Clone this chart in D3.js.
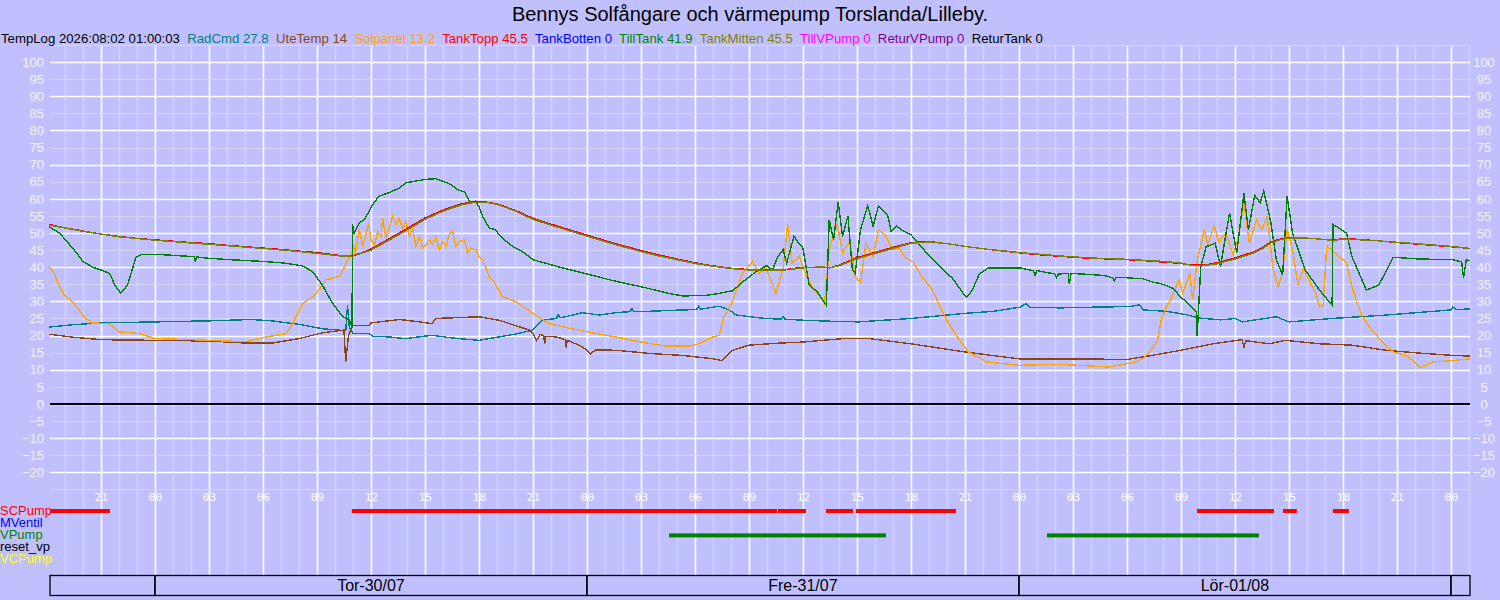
<!DOCTYPE html>
<html>
<head>
<meta charset="utf-8">
<script src="https://cdnjs.cloudflare.com/ajax/libs/d3/7.8.5/d3.min.js"></script>
<style>
  body { margin: 0; background: #c0c0ff; }
  svg { display: block; font-family: "Liberation Sans", Arial, sans-serif; }
</style>
</head>
<body>
<script>
// hours are counted from Tor-30/07 00:00
const baseTime = Date.UTC(2026, 6, 30, 0, 0);
const startHour = -5.83;
const endHour = 73.06;

const titleText = "Bennys Solfångare och värmepump Torslanda/Lilleby.";
const logStamp = "TempLog 2026:08:02 01:00:03";

const seriesNames = ["RadCmd", "UteTemp", "Solpanel", "TankTopp", "TankBotten", "TillTank", "TankMitten", "TillVPump", "ReturVPump", "ReturTank"];
const lastValues = ["27.8", "14", "13.2", "45.5", "0", "41.9", "45.5", "0", "0", "0"];
const seriesColors = ["#008080", "#8b4513", "#ffa500", "#ff0000", "#0000ff", "#008000", "#808000", "#ff00ff", "#800080", "#000000"];

const radCmd = [[-5.87,22.5],[-4.5,23.2],[-3,23.7],[0,24],[3,24.3],[5.4,24.7],[6.5,24.3],[8,23.3],[9.3,22],[10.2,21.6],[10.6,21.4],[10.7,28.9],[10.8,22.5],[11,20.6],[11.9,20.6],[12.1,19.8],[13,19.6],[13.9,19.1],[15.4,20.1],[16.5,19.3],[18,18.6],[19.1,19.6],[20,20.4],[21,21.6],[21.5,24.5],[22.3,25],[22.4,26.2],[22.5,25.2],[22.8,25.5],[23.75,26.7],[24.7,26],[25.6,26.7],[26.4,27],[26.5,28],[26.6,27],[27,27],[29.3,27.5],[30.1,27.6],[30.2,28.6],[30.3,27.7],[31.35,28.6],[31.9,27.5],[32.3,26],[33.9,25],[34.8,24.8],[34.9,25.6],[35,24.8],[36,24.5],[37.5,24.2],[39.1,24],[42,25],[45,26.5],[46.6,27.1],[48.05,28.3],[48.4,29.3],[48.6,28.3],[50.3,28.1],[52.1,28.3],[54.2,28.5],[54.7,29],[54.9,27.5],[56.2,27.1],[57.3,26.1],[58.05,25.1],[59.2,24.6],[60.05,25],[60.4,24],[62.3,25.5],[63,24],[65.4,25],[68.4,26],[72,27.5],[72.1,28.4],[72.3,27.6],[73.06,27.8]];

const uteTemp = [[-5.87,20.4],[-4.5,19.5],[-3,18.8],[0,18.6],[3,18.4],[5.06,17.8],[6.5,17.8],[8,19.1],[9.3,20.8],[10.5,21.6],[10.6,12.3],[10.75,20],[11,23],[11.9,23],[12,23.7],[13.6,24.7],[14.7,24],[15.4,23.5],[15.6,25],[18,25.5],[19.1,24.5],[20.8,21.6],[21,20.6],[21.2,18.5],[21.4,20.3],[21.6,20],[21.65,17.5],[21.7,19.8],[22.3,19.6],[22.8,18.8],[22.85,16.5],[22.9,18.6],[23.2,18],[23.76,16.7],[24.2,14.7],[24.5,15.8],[25.6,15.7],[27.65,14.7],[29.3,14.2],[31,13.2],[31.5,12.7],[32.1,15.7],[33,17.2],[34.7,17.8],[36,18.1],[38.2,19.1],[39.7,19.1],[42,17.6],[45,15.2],[48,13.2],[51,13.2],[54,13],[55.4,14.2],[57,15.7],[58.8,17.6],[60.4,18.8],[60.5,16.5],[60.6,18.5],[61.9,17.6],[62.8,18.6],[64.7,17.6],[66.5,17.2],[68.4,15.7],[70.2,14.9],[72.1,14.2],[73.06,14]];

const solpanel = [[-5.87,40.2],[-5.6,38.2],[-5.3,34.3],[-5,31.6],[-4.57,29.9],[-4,26],[-3.55,23.7],[-2.54,23.5],[-1.98,21.1],[-0.87,20.6],[0,19.1],[1.5,18.9],[3,18.6],[5.06,18.2],[6.17,19.6],[7.3,20.6],[7.65,23.5],[8.2,29.4],[8.9,31.9],[9.5,36.3],[10.24,37.3],[10.5,39.7],[10.7,42.2],[10.9,43.6],[11.02,46.6],[11.13,44.1],[11.35,51],[11.54,46.1],[11.72,49.5],[11.87,52.9],[12,48],[12.19,46.1],[12.37,50.5],[12.56,49],[12.65,54.4],[12.83,48.5],[13,51],[13.2,54.9],[13.4,52.5],[13.57,54.4],[13.76,51],[13.94,53.4],[14.13,49],[14.31,51.5],[14.5,46.1],[14.69,49],[14.87,45.6],[15.06,46.6],[15.24,48],[15.43,46.6],[15.6,49],[15.8,45.1],[15.98,47.5],[16.17,46.1],[16.35,49.5],[16.54,50.5],[16.72,46.1],[16.91,47.5],[17.2,48],[17.37,44.1],[17.55,45.6],[17.83,45.1],[18,43.1],[18.2,42.2],[18.4,39.7],[18.57,37.3],[18.85,35.8],[19.04,33.8],[19.3,31.4],[20.05,29.9],[21,26.5],[21.9,23.5],[22.8,22.4],[24,21.1],[25.6,19.6],[27,18.1],[28.4,16.9],[29.7,16.9],[30.2,17.6],[31,19.6],[31.35,20.1],[31.6,25.5],[31.9,27.5],[32.3,33.3],[32.65,38.2],[33.2,41.7],[33.57,38.2],[33.95,39.7],[34.5,32.4],[34.9,39.7],[35.15,52.5],[35.4,41.2],[35.8,43.1],[36.2,37.3],[36.5,34.3],[37,30.9],[37.2,29.4],[37.46,45.1],[37.9,52.9],[38.2,44.1],[38.6,47.5],[38.9,37.3],[39.2,35.3],[39.5,47],[39.9,43.1],[40.2,51],[40.6,49],[41,45.1],[41.35,45.6],[41.7,42.6],[42.1,41.7],[42.6,37.3],[43.2,33.3],[43.7,27.5],[44.1,23.5],[44.7,18.6],[45.2,15.2],[46.2,12.3],[48,11.3],[50.2,11.6],[53,10.8],[54.5,12.3],[55,13.7],[55.4,16.2],[55.7,18.6],[55.9,24.5],[56.2,28.4],[56.5,31.4],[56.9,36.3],[57.1,32.4],[57.5,38.2],[57.65,30.4],[57.9,41.7],[58.3,51],[58.5,46.6],[58.85,52],[59.1,47.5],[59.5,50],[59.9,43.6],[60.2,49],[60.5,58.8],[60.8,47],[61.2,53.9],[61.5,51],[61.8,54.9],[62.1,40.2],[62.4,34.3],[62.65,38.2],[62.9,51],[63.2,45.1],[63.5,34.8],[63.8,39.7],[64.1,36.3],[64.5,32.4],[64.7,28.4],[64.9,28.9],[65.1,46.1],[65.6,44.1],[66.2,41.2],[66.5,34.3],[66.8,29.4],[67.1,25.5],[67.6,21.6],[68.2,18.1],[68.8,15.2],[69.5,14.2],[69.9,12.7],[70.3,10.6],[71,12.3],[72.1,12.7],[73.06,13.2]];

const tankTopp = [[-5.87,52.5],[-5,51.5],[-4,50.6],[-3,49.7],[-2,49],[-1,48.4],[0,48],[1,47.6],[2,47.2],[3,46.9],[4,46.4],[5,46],[6,45.6],[7,45.2],[8,44.7],[9,44.3],[10.3,43.4],[11,43.4],[11.5,44.2],[12,45.3],[13,48.3],[14,51.3],[15,54.4],[16,56.7],[17,58.5],[17.7,59.2],[18.5,59],[19,58.5],[20,56.7],[21,54.3],[22,52.6],[23,51],[24,49.4],[25,47.8],[26,46.3],[27,44.9],[28,43.6],[29,42.4],[30,41.3],[31,40.4],[32,39.7],[33,39.3],[34,39.2],[35,39.3],[36,40],[37,40],[37.5,39.8],[38,40.6],[39,42.8],[40,44.3],[41,45.8],[42,47.2],[43,47.5],[44,46.9],[45,46.1],[46,45.4],[47,44.8],[48,44.2],[49,43.7],[50,43.3],[51,42.9],[52,42.6],[53,42.4],[54,42.2],[55,41.9],[56,41.5],[57,41.1],[57.6,40.6],[58.5,40.8],[59,41.3],[60,42.7],[61,44.4],[61.5,45.6],[62,47.4],[62.5,48.2],[63,48.6],[64,48.5],[65,48.1],[65.5,47.9],[66,48.4],[67,48.1],[68,47.7],[69,47.2],[70,46.8],[71,46.4],[72,46],[73.06,45.5]];

const tillTank = [[-5.87,51.8],[-5.3,50],[-4.57,45.6],[-4,41.7],[-3.46,40],[-3,39.2],[-2.54,38.2],[-2.45,37.3],[-2.2,34.5],[-1.9,32.4],[-1.52,34.8],[-1.06,42.9],[-0.69,43.8],[0,43.8],[1.5,43.3],[2.2,43.1],[2.25,41.5],[2.3,43],[3,42.6],[4.5,42.1],[6,41.7],[7.2,41.2],[8.2,40.4],[8.76,38.7],[9.3,34.8],[9.87,29.4],[10.43,25.5],[10.8,24.5],[10.95,22.5],[10.98,52.5],[11.06,50],[11.35,52.9],[11.63,53.9],[11.9,56.4],[12.1,58.3],[12.46,60.8],[13,61.8],[13.6,63.2],[13.94,64.7],[14.5,65.2],[15.05,65.7],[15.6,65.9],[16.2,64.7],[16.44,64.2],[16.8,62.7],[17.2,62],[17.37,60.3],[17.55,58.8],[17.8,59.3],[18,57.8],[18.2,54.9],[18.57,51.5],[18.9,51],[19.3,48.5],[19.87,46.1],[20.4,44.6],[21,42.2],[22.5,40],[24,38],[25.5,36],[27,34.3],[28.5,32.4],[29.3,31.6],[30.5,31.7],[31.2,32.2],[32.1,33.1],[32.8,36.3],[33.4,38.7],[33.6,39.4],[34,40.5],[34.3,39.2],[34.6,43],[34.9,45.1],[35.1,41.2],[35.5,49],[35.7,47.5],[36,45.6],[36.35,34.8],[36.8,32.8],[37.3,28.9],[37.46,53.9],[37.7,48],[37.96,59],[38.2,49],[38.5,54.9],[38.75,39.2],[38.9,38.2],[39.2,51],[39.6,58],[39.9,52],[40.2,58],[40.7,55.4],[40.9,50.5],[41.2,52],[41.6,50.5],[42,49.5],[42.8,44.6],[43.8,39.2],[44.3,36.8],[45,31.6],[45.1,31.2],[45.4,33.2],[45.8,38],[46.3,39.8],[48.05,39.8],[48.8,39],[48.9,37.6],[49,39],[49.2,38.8],[50,38],[50.1,37],[50.2,38],[50.74,38.2],[50.8,35.1],[50.9,38.2],[52.1,37.8],[52.7,37.6],[53.2,36.9],[53.3,36.1],[53.4,36.9],[54,36.9],[54.9,36.6],[55.46,35.6],[55.8,35.3],[56.2,34.6],[56.6,33.7],[56.9,31.7],[57.3,29.8],[57.7,27.8],[57.87,26.8],[57.9,20],[58.1,40],[58.4,46],[58.9,47],[59.2,40.2],[59.7,55.9],[60.1,44.1],[60.5,61.6],[60.75,51],[61.1,61],[61.4,58.8],[61.6,62.3],[62,53],[62.3,42.2],[62.65,37.7],[62.9,60.8],[63.2,50],[63.9,39.2],[64.7,33.3],[65.4,28.9],[65.45,52.5],[66.2,50],[66.5,43.1],[67.3,33.3],[68,34.8],[68.8,42.9],[70.2,42.4],[72.1,42.2],[72.6,41.5],[72.7,36.8],[72.85,42.2],[73.06,41.9]];

const tankMitten = [[-5.87,52.3],[-4,50.5],[-2,48.9],[0,47.9],[2,47.1],[4,46.3],[6,45.5],[8,44.6],[10.3,43.3],[11,43.2],[12,45],[13,47.9],[14,50.9],[15,54],[16,56.4],[17,58.2],[17.8,59],[18.5,58.9],[19,58.4],[20,56.5],[21,54],[22,52.3],[23,50.7],[24,49.1],[25,47.5],[26,46],[27,44.6],[28,43.3],[29,42.2],[30,41.1],[31,40.3],[32,39.6],[33,39.2],[34,39.1],[35,39.2],[36,39.8],[37,40.1],[37.5,39.9],[38,40.4],[39,42.5],[40,44],[41,45.5],[42,47],[43,47.4],[44,46.9],[45,46.1],[46,45.4],[48,44.3],[50,43.4],[52,42.7],[54,42.3],[56,41.7],[57,41.2],[57.6,40.5],[58.5,40.6],[59,41],[60,42.4],[61,44.1],[61.5,45.3],[62,47.1],[62.5,48],[63,48.5],[64,48.5],[65,48.1],[65.5,47.8],[66,48.3],[68,47.7],[70,46.9],[72,46.1],[73.06,45.5]];

const tankBotten = [[startHour,0],[endHour,0]];
const tillVPump = [[startHour,0],[endHour,0]];
const returVPump = [[startHour,0],[endHour,0]];
const returTank = [[startHour,0],[endHour,0]];

const allSeries = [radCmd, uteTemp, solpanel, tankTopp, tankBotten, tillTank, tankMitten, tillVPump, returVPump, returTank];

// on/off periods, [from hour, to hour]
const pumpNames = ["SCPump", "MVentil", "VPump", "reset_vp", "VCPump"];
const pumpColors = ["#ff0000", "#0000ff", "#008000", "#000000", "#ffff00"];
const scPumpOn = [[startHour,-2.5],[10.94,34.56],[34.61,36.17],[37.28,38.78],[38.94,44.5],[57.89,62.17],[62.67,63.44],[65.44,66.33]];
const mVentilOn = [];
const vPumpOn = [[28.56,40.61],[49.56,61.33]];
const resetVpOn = [];
const vcPumpOn = [];
const pumpPeriods = [scPumpOn, mVentilOn, vPumpOn, resetVpOn, vcPumpOn];

const dayBreaks = [startHour, 0, 24, 48, 72, endHour];
const dayLabels = ["Tor-30/07", "Fre-31/07", "Lör-01/08"];
const dayNoon = [12, 36, 60];

const yTicks = d3.range(-20, 101, 5);

const toDate = (hr) => new Date(baseTime + hr * 3600000);

const w = 1500;
const h = 600;

const svg = d3.select("body")
              .append("svg")
              .attr("width", w)
              .attr("height", h);

const x = d3.scaleUtc()
            .domain([toDate(startHour), toDate(endHour)])
            .range([50, 1470]);

const y = d3.scaleLinear()
            .domain([-25, 105])
            .range([489.4, 45]);

// grid
const hourTicks = x.ticks(d3.utcHour.every(1));
const grid = svg.append("g");
grid.selectAll(".vminor")
    .data(hourTicks)
    .enter()
    .append("line")
    .attr("x1", (d) => Math.round(x(d)) + 0.5)
    .attr("x2", (d) => Math.round(x(d)) + 0.5)
    .attr("y1", 45)
    .attr("y2", 575)
    .attr("stroke", (d) => d.getUTCHours() % 3 == 0 ? "#ffffff" : "#d8d8ff")
    .attr("stroke-width", (d) => d.getUTCHours() % 3 == 0 ? 1.6 : 1.2);

grid.selectAll(".hline")
    .data(d3.range(-25, 106, 5))
    .enter()
    .append("line")
    .attr("x1", 50)
    .attr("x2", 1470)
    .attr("y1", (d) => Math.round(y(d)) + 0.5)
    .attr("y2", (d) => Math.round(y(d)) + 0.5)
    .attr("stroke", (d) => d % 10 == 0 ? "#ffffff" : "#d8d8ff")
    .attr("stroke-width", (d) => d % 10 == 0 ? 1.6 : 1.2);

// y labels
const yLeft = d3.axisLeft(y).tickValues(yTicks).tickSize(0).tickPadding(6);
svg.append("g")
   .attr("transform", "translate(50,0)")
   .call(yLeft)
   .call((g) => g.select(".domain").remove())
   .selectAll("text")
   .attr("fill", "#f4f4ff")
   .style("font-size", "13px")
   .style("font-family", "'Liberation Sans', Arial, sans-serif");

const yRight = d3.axisRight(y).tickValues(yTicks).tickSize(0).tickPadding(0);
svg.append("g")
   .attr("transform", "translate(1484,0)")
   .call(yRight)
   .call((g) => g.select(".domain").remove())
   .selectAll("text")
   .attr("fill", "#f4f4ff")
   .attr("text-anchor", "middle")
   .style("font-size", "13px")
   .style("font-family", "'Liberation Sans', Arial, sans-serif");

// hour labels
const xAxis = d3.axisBottom(x)
                .ticks(d3.utcHour.every(3))
                .tickFormat(d3.utcFormat("%H"))
                .tickSize(0)
                .tickPadding(3);
svg.append("g")
   .attr("transform", "translate(0,490)")
   .call(xAxis)
   .call((g) => g.select(".domain").remove())
   .selectAll("text")
   .attr("fill", "#ffffff")
   .style("font-size", "11px")
   .style("font-family", "'DejaVu Sans Mono', monospace");

// series lines, drawn aliased like the logger's own plots
const line = d3.line()
               .x((d) => x(toDate(d[0])))
               .y((d) => y(d[1]));

svg.append("g")
   .selectAll("path")
   .data(allSeries)
   .enter()
   .append("path")
   .attr("d", line)
   .attr("fill", "none")
   .attr("stroke", (d, i) => seriesColors[i])
   .attr("stroke-width", 1.4)
   .attr("shape-rendering", "crispEdges");

// title and legend
svg.append("text")
   .attr("x", 750)
   .attr("y", 21)
   .attr("text-anchor", "middle")
   .style("font-size", "20px")
   .text(titleText);

const legend = svg.append("text")
                  .attr("x", 1)
                  .attr("y", 43)
                  .style("font-size", "13.2px");
legend.append("tspan").attr("fill", "#000").text(logStamp);
seriesNames.forEach((name, i) => {
  legend.append("tspan")
        .attr("fill", seriesColors[i])
        .text("\u00a0 " + name + " " + lastValues[i]);
});

// pump status rows
svg.selectAll(".pumpname")
   .data(pumpNames)
   .enter()
   .append("text")
   .attr("x", 0)
   .attr("y", (d, i) => 515 + i * 12)
   .attr("fill", (d, i) => pumpColors[i])
   .style("font-size", "13px")
   .text((d) => d);

pumpPeriods.forEach((periods, i) => {
  svg.selectAll(".bar" + i)
     .data(periods)
     .enter()
     .append("rect")
     .attr("x", (d) => x(toDate(d[0])))
     .attr("width", (d) => x(toDate(d[1])) - x(toDate(d[0])))
     .attr("y", 509 + i * 12.2)
     .attr("height", 4)
     .attr("fill", pumpColors[i]);
});

// day boxes
const days = svg.append("g");
days.selectAll("rect")
    .data(d3.pairs(dayBreaks))
    .enter()
    .append("rect")
    .attr("x", (d) => x(toDate(d[0])))
    .attr("width", (d) => x(toDate(d[1])) - x(toDate(d[0])))
    .attr("y", 575.5)
    .attr("height", 20)
    .attr("fill", "none")
    .attr("stroke", "#000")
    .attr("stroke-width", 1.3);

days.selectAll("text")
    .data(dayLabels)
    .enter()
    .append("text")
    .attr("x", (d, i) => x(toDate(dayNoon[i])))
    .attr("y", 591)
    .attr("text-anchor", "middle")
    .style("font-size", "16px")
    .text((d) => d);
</script>
</body>
</html>
